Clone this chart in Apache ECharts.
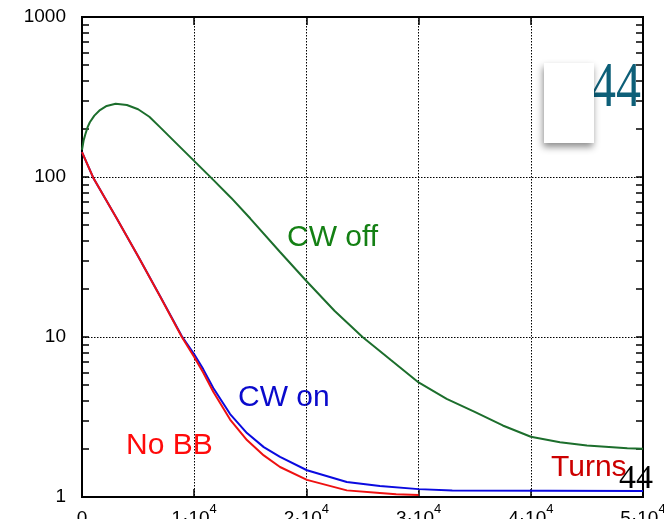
<!DOCTYPE html>
<html>
<head>
<meta charset="utf-8">
<script src="https://cdn.jsdelivr.net/npm/echarts@6/dist/echarts.min.js"></script>
<style>
  html, body { margin: 0; padding: 0; background: #fff; }
  #chart { width: 664px; height: 519px; }
</style>
</head>
<body>
<div id="chart"></div>
<script>
// Particle survival vs. turns (log scale)
const xTicks = [0, 10000, 20000, 30000, 40000, 50000];
const yTicks = [1, 10, 100, 1000];
const yMinorTicks = [2, 3, 4, 5, 6, 7, 8, 9, 20, 30, 40, 50, 60, 70, 80, 90, 200, 300, 400, 500, 600, 700, 800, 900];

// CW off
const cwOffTurns = [0, 150, 300, 500, 700, 1100, 1600, 2200, 3000, 4000, 5000, 6000, 6950, 8500, 9900, 11700, 13300, 15000, 17650, 20000, 22500, 25000, 27500, 30000, 32500, 35000, 37500, 40000, 42600, 45000, 48600, 50000];
const cwOffValues = [148, 170, 185, 205, 220, 242, 262, 278, 287, 282, 265, 238, 205, 160, 128, 96, 74, 55, 34, 22.4, 14.6, 10, 7.2, 5.2, 4.1, 3.4, 2.8, 2.38, 2.2, 2.1, 2.02, 2.0];

// CW on
const cwOnTurns = [0, 1000, 3100, 5000, 7000, 8900, 10000, 10800, 11700, 13200, 14700, 16200, 17650, 20050, 23600, 26550, 30000, 33000, 50000];
const cwOnValues = [143, 99, 55, 32, 17.8, 10.1, 7.8, 6.3, 4.8, 3.3, 2.51, 2.05, 1.78, 1.47, 1.24, 1.17, 1.12, 1.1, 1.09];

// No beam-beam
const noBBTurns = [0, 1000, 3100, 5000, 7000, 8900, 10000, 10800, 11700, 13200, 14700, 16200, 17650, 20050, 23600, 26550, 28000, 30000];
const noBBValues = [143, 99, 55, 32, 17.7, 10, 7.5, 6.0, 4.55, 3.05, 2.27, 1.82, 1.54, 1.28, 1.1, 1.06, 1.04, 1.03];

function pairs(xs, ys) { return xs.map((x, i) => [x, ys[i]]); }

const chart = echarts.init(document.getElementById('chart'), null, { renderer: 'canvas' });

const sans = 'Liberation Sans, Arial, sans-serif';
const serif = 'Liberation Serif, Times New Roman, serif';

function minorAxis(pos) {
  return {
    type: 'log', logBase: 10, min: 1, max: 1000, position: pos, gridIndex: 0,
    axisLine: { show: false },
    axisLabel: { show: false },
    splitLine: { show: false },
    axisTick: { show: true, inside: true, length: 7, customValues: yMinorTicks.concat([10, 100]),
      lineStyle: { color: '#000', width: 1.5 } }
  };
}

chart.setOption({
  animation: false,
  backgroundColor: '#fff',
  grid: { left: 82, right: 21, top: 17, bottom: 22, outerBoundsMode: 'none', containLabel: false,
    show: true, borderColor: '#000', borderWidth: 2, backgroundColor: 'transparent' },
  xAxis: [{
    type: 'value', min: 0, max: 50000, interval: 10000,
    axisLine: { show: false },
    axisTick: { show: true, inside: true, length: 8, lineStyle: { color: '#000', width: 1.5 } },
    splitLine: { show: true, lineStyle: { color: '#000', width: 1, type: [1.5, 1.5] } },
    axisLabel: {
      margin: 6,
      formatter: function (v) {
        if (v === 0) return '{m|0}';
        return '{m|' + (v / 10000) + '·10}{s|4}';
      },
      rich: {
        m: { fontSize: 19, fontFamily: sans, color: '#000', lineHeight: 25, verticalAlign: 'bottom' },
        s: { fontSize: 13, fontFamily: sans, color: '#000', lineHeight: 25, verticalAlign: 'top' }
      }
    }
  }, {
    type: 'value', min: 0, max: 50000, interval: 10000, position: 'top',
    axisLine: { show: false },
    axisTick: { show: true, inside: true, length: 8, lineStyle: { color: '#000', width: 1.5 } },
    splitLine: { show: false },
    axisLabel: { show: false }
  }],
  yAxis: [{
    type: 'log', logBase: 10, min: 1, max: 1000, position: 'left',
    axisLine: { show: false },
    axisTick: { show: false },
    splitLine: { show: true, lineStyle: { color: '#000', width: 1, type: [1.5, 1.5] } },
    axisLabel: { margin: 16, fontSize: 19, fontFamily: sans, color: '#000',
      formatter: function (v) { return yTicks.indexOf(v) >= 0 ? String(v) : ''; } }
  }, minorAxis('left'), minorAxis('right')],
  series: [{
    name: 'CW off', type: 'line', data: pairs(cwOffTurns, cwOffValues),
    showSymbol: false, smooth: false,
    lineStyle: { color: '#1c6e2c', width: 2 }, z: 3
  }, {
    name: 'CW on', type: 'line', data: pairs(cwOnTurns, cwOnValues),
    showSymbol: false, smooth: false,
    lineStyle: { color: '#0a0ae0', width: 2 }, z: 3
  }, {
    name: 'No BB', type: 'line', data: pairs(noBBTurns, noBBValues),
    showSymbol: false, smooth: false,
    lineStyle: { color: '#ee1111', width: 2 }, z: 4
  }],
  graphic: [
    { type: 'text', z: -1, x: 287, y: 238, style: { text: 'CW off', fill: '#148014', font: '30px ' + sans, textVerticalAlign: 'middle' } },
    { type: 'text', z: -1, x: 238, y: 398, style: { text: 'CW on', fill: '#0a0acc', font: '30px ' + sans, textVerticalAlign: 'middle' } },
    { type: 'text', z: -1, x: 126, y: 446, style: { text: 'No BB', fill: '#ff0a0a', font: '30px ' + sans, textVerticalAlign: 'middle' } },
    { type: 'text', z: -1, x: 551, y: 468, style: { text: 'Turns', fill: '#cc0000', font: '30px ' + sans, textVerticalAlign: 'middle' } },
    { type: 'text', z: 20, x: 619, y: 479, style: { text: '44', fill: '#000', font: '34px ' + serif, textVerticalAlign: 'middle' } },
    { type: 'text', z: 20, x: 591, y: 89, scaleX: 0.78, style: { text: '44', fill: '#0d5f78', font: '64px ' + serif, textVerticalAlign: 'middle' } },
    { type: 'rect', z: 21, shape: { x: 544, y: 63, width: 50, height: 80 },
      style: { fill: '#fff', shadowBlur: 7, shadowOffsetX: -1, shadowOffsetY: 4, shadowColor: 'rgba(0,0,0,0.45)' } }
  ]
});
</script>
</body>
</html>
